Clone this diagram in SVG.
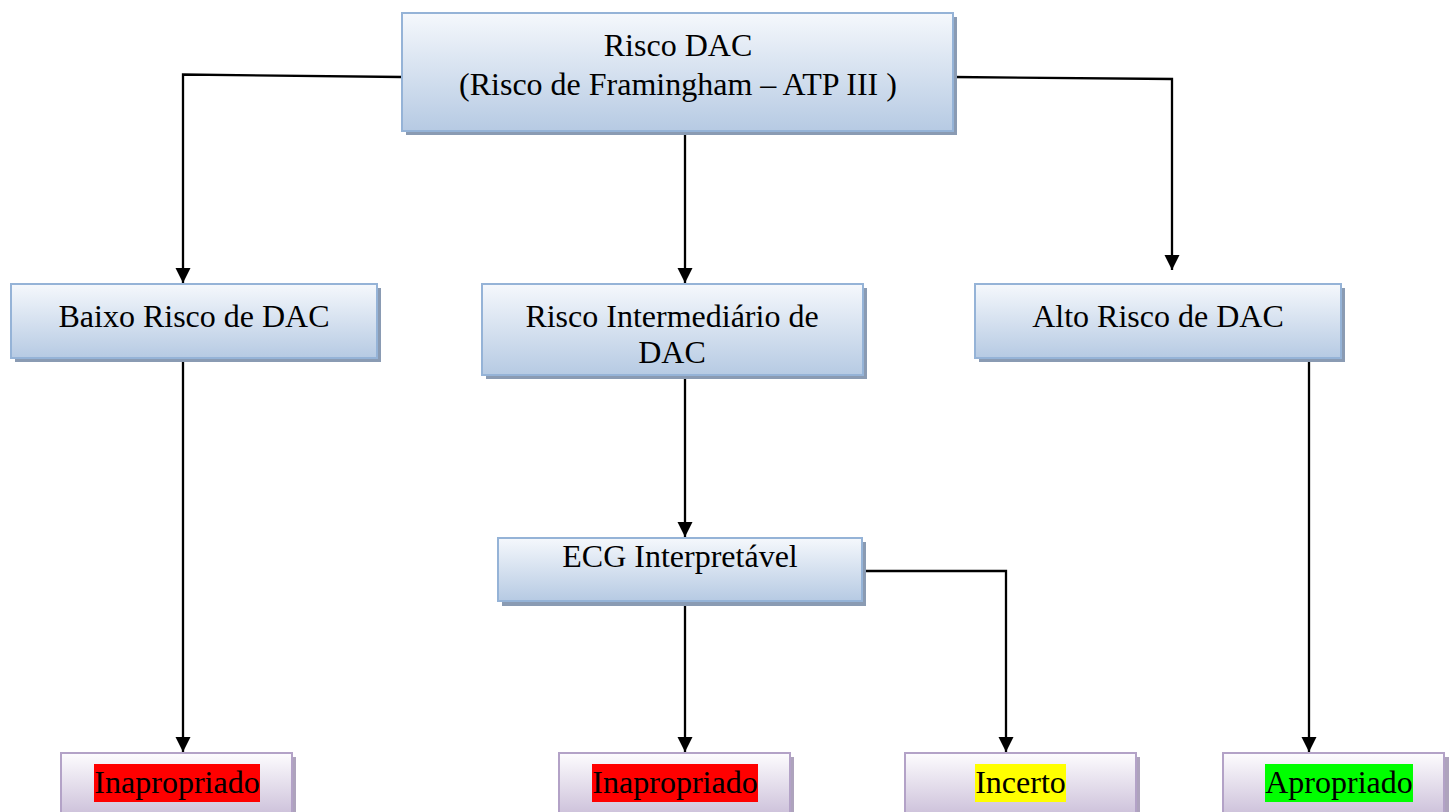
<svg xmlns="http://www.w3.org/2000/svg" width="1449" height="812" viewBox="0 0 1449 812">
  <style>
    .lbl { font-family: "Liberation Serif", "Times New Roman", serif; font-size: 32px; fill: #000; text-anchor: middle; }
    .blue { fill: url(#gBlue); stroke: #95b3d7; stroke-width: 2; }
    .blueShadow { fill: #8a9bb3; }
    .lav { fill: url(#gLav); stroke: #b3a2c7; stroke-width: 2; }
    .lavShadow { fill: #aea3bd; }
    .wire { fill: none; stroke: #000; stroke-width: 2.3; }
  </style>
  <defs>
    <linearGradient id="gBlue" x1="0" y1="0" x2="0" y2="1">
      <stop offset="0" stop-color="#f5f8fc"/>
      <stop offset="1" stop-color="#b6cae3"/>
    </linearGradient>
    <linearGradient id="gLav" x1="0" y1="0" x2="0" y2="1">
      <stop offset="0" stop-color="#fdfcfe"/>
      <stop offset="1" stop-color="#cbbfd9"/>
    </linearGradient>
    <marker id="arrow" markerUnits="userSpaceOnUse" markerWidth="16" markerHeight="16" refX="15" refY="7.5" orient="auto">
      <path d="M0,0 L15,7.5 L0,15 z" fill="#000"/>
    </marker>
  </defs>

  <rect width="1449" height="812" fill="#fff"/>

  <!-- connectors -->
  <g id="connectors">
    <polyline class="wire" points="402,77 183,74.5 183,283" marker-end="url(#arrow)"/>
    <polyline class="wire" points="953,77 1172,79 1172,270" marker-end="url(#arrow)"/>
    <line class="wire" x1="685" y1="131" x2="685" y2="283" marker-end="url(#arrow)"/>
    <line class="wire" x1="183" y1="359" x2="183" y2="752" marker-end="url(#arrow)"/>
    <line class="wire" x1="685" y1="376" x2="685" y2="537" marker-end="url(#arrow)"/>
    <line class="wire" x1="685" y1="602" x2="685" y2="752" marker-end="url(#arrow)"/>
    <polyline class="wire" points="866,571 1006,571 1006,752" marker-end="url(#arrow)"/>
    <line class="wire" x1="1309" y1="359" x2="1309" y2="752" marker-end="url(#arrow)"/>
  </g>

  <!-- top node -->
  <g id="risco-dac">
    <rect class="blueShadow" x="406" y="17" width="551" height="118"/>
    <rect class="blue" x="402" y="13" width="551" height="118"/>
    <text class="lbl" x="678" y="56">Risco DAC</text>
    <text class="lbl" x="678" y="95">(Risco de Framingham – ATP III )</text>
  </g>

  <!-- risk levels -->
  <g id="baixo-risco">
    <rect class="blueShadow" x="15" y="288" width="366" height="74"/>
    <rect class="blue" x="11" y="284" width="366" height="74"/>
    <text class="lbl" x="194" y="327">Baixo Risco de DAC</text>
  </g>

  <g id="risco-intermediario">
    <rect class="blueShadow" x="486" y="288" width="381" height="91"/>
    <rect class="blue" x="482" y="284" width="381" height="91"/>
    <text class="lbl" x="672" y="327">Risco Intermediário de</text>
    <text class="lbl" x="672" y="363">DAC</text>
  </g>

  <g id="alto-risco">
    <rect class="blueShadow" x="979" y="288" width="366" height="74"/>
    <rect class="blue" x="975" y="284" width="366" height="74"/>
    <text class="lbl" x="1158" y="327">Alto Risco de DAC</text>
  </g>

  <g id="ecg">
    <rect class="blueShadow" x="502" y="542" width="364" height="64"/>
    <rect class="blue" x="498" y="538" width="364" height="63"/>
    <text class="lbl" x="680" y="567">ECG Interpretável</text>
  </g>

  <!-- outcomes -->
  <g id="inapropriado-1">
    <rect class="lavShadow" x="65" y="757" width="231" height="60"/>
    <rect class="lav" x="61" y="753" width="231" height="64"/>
    <rect x="94" y="764" width="166" height="38" fill="#ff0000"/>
    <text class="lbl" x="177" y="793">Inapropriado</text>
  </g>

  <g id="inapropriado-2">
    <rect class="lavShadow" x="563" y="757" width="231" height="60"/>
    <rect class="lav" x="559" y="753" width="231" height="64"/>
    <rect x="592" y="764" width="166" height="38" fill="#ff0000"/>
    <text class="lbl" x="675" y="793">Inapropriado</text>
  </g>

  <g id="incerto">
    <rect class="lavShadow" x="909" y="757" width="231" height="60"/>
    <rect class="lav" x="905" y="753" width="231" height="64"/>
    <rect x="975" y="764" width="91" height="38" fill="#ffff00"/>
    <text class="lbl" x="1020.5" y="793">Incerto</text>
  </g>

  <g id="apropriado">
    <rect class="lavShadow" x="1227" y="757" width="222" height="60"/>
    <rect class="lav" x="1223" y="753" width="221" height="64"/>
    <rect x="1265" y="764" width="148" height="38" fill="#00ff00"/>
    <text class="lbl" x="1339" y="793">Apropriado</text>
  </g>
</svg>
